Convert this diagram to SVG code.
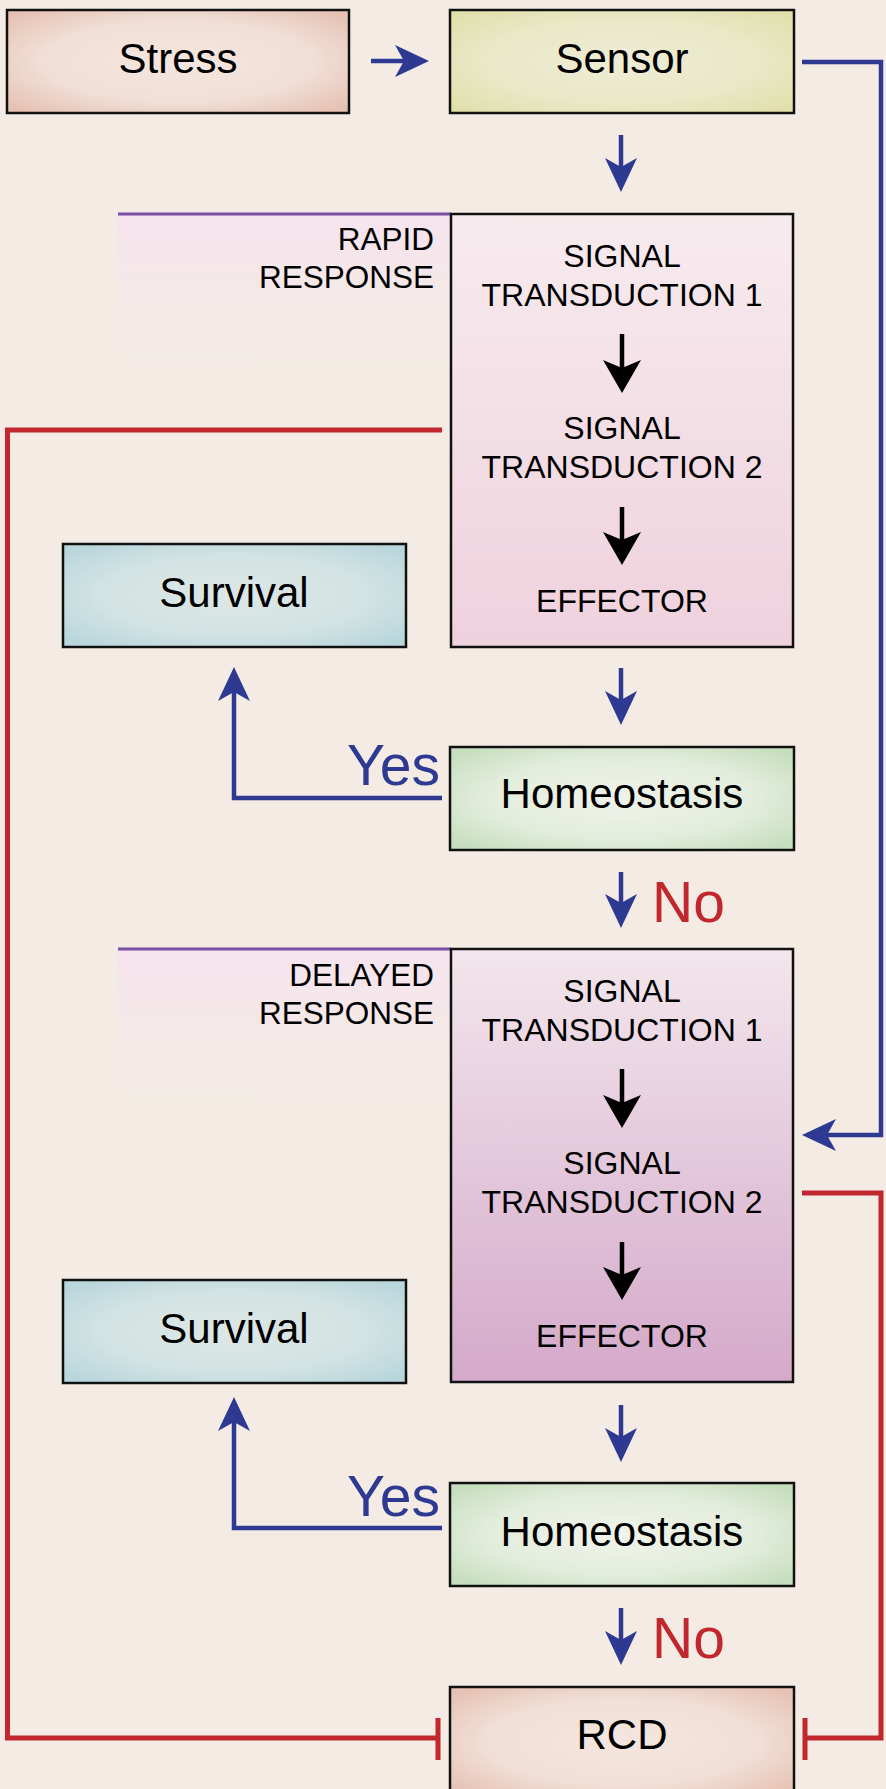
<svg xmlns="http://www.w3.org/2000/svg" width="886" height="1789" viewBox="0 0 886 1789">
<style>
.box{stroke:#111;stroke-width:2.5}
.lbl{font-family:"Liberation Sans",Arial,sans-serif;font-size:42px;fill:#000;text-anchor:middle}
.sig{font-family:"Liberation Sans",Arial,sans-serif;font-size:32px;fill:#000;text-anchor:middle}
.side{font-family:"Liberation Sans",Arial,sans-serif;font-size:31.5px;fill:#000;text-anchor:end}
.yes{font-family:"Liberation Sans",Arial,sans-serif;font-size:57px;fill:#2E3A92;text-anchor:end}
.no{font-family:"Liberation Sans",Arial,sans-serif;font-size:57px;fill:#C1272D}
.blue{fill:none;stroke:#2E3A92;stroke-width:4.5;marker-end:url(#ab)}
.blk{fill:none;stroke:#000;stroke-width:4.5;marker-end:url(#ak)}
.red{fill:none;stroke:#C1272D;stroke-width:5}
.purple{stroke:#7B4FA3;stroke-width:3}
</style>
<defs>
<marker id="ab" markerUnits="userSpaceOnUse" markerWidth="40" markerHeight="40" refX="9" refY="16" orient="auto" overflow="visible">
<path d="M34,16 L0,0 L9,16 L0,32 Z" fill="#2E3A92"/>
</marker>
<marker id="ak" markerUnits="userSpaceOnUse" markerWidth="40" markerHeight="40" refX="8" refY="19" orient="auto" overflow="visible">
<path d="M33,19 L0,0 L8,19 L0,38 Z" fill="#000"/>
</marker>
<radialGradient id="gStress" cx="0.5" cy="0.5" r="0.65">
<stop offset="0" stop-color="#F4E6DF"/><stop offset="0.6" stop-color="#F1DFD6"/><stop offset="1" stop-color="#E6C2B4"/>
</radialGradient>
<radialGradient id="gSensor" cx="0.5" cy="0.5" r="0.65">
<stop offset="0" stop-color="#EEECD4"/><stop offset="0.6" stop-color="#EAE8C8"/><stop offset="1" stop-color="#E1E0AC"/>
</radialGradient>
<radialGradient id="gSurv" cx="0.5" cy="0.5" r="0.65">
<stop offset="0" stop-color="#DCE7E5"/><stop offset="0.6" stop-color="#D2E3E3"/><stop offset="1" stop-color="#B8D6DB"/>
</radialGradient>
<radialGradient id="gHomeo" cx="0.5" cy="0.5" r="0.65">
<stop offset="0" stop-color="#F0F3EB"/><stop offset="0.6" stop-color="#E3EDDC"/><stop offset="1" stop-color="#C6DEBD"/>
</radialGradient>
<linearGradient id="gRapid" x1="0" y1="0" x2="0" y2="1">
<stop offset="0" stop-color="#F7EBEE"/><stop offset="1" stop-color="#EFD1DD"/>
</linearGradient>
<linearGradient id="gDelayed" x1="0" y1="0" x2="0" y2="1">
<stop offset="0" stop-color="#F3E6EC"/><stop offset="1" stop-color="#D4A9CA"/>
</linearGradient>
<linearGradient id="gPanel" x1="0" y1="0" x2="0" y2="1">
<stop offset="0" stop-color="#F6E3EF" stop-opacity="1"/><stop offset="1" stop-color="#F3EBE4" stop-opacity="0"/>
</linearGradient>
</defs>
<rect x="0" y="0" width="886" height="1789" fill="#F3EBE4"/>

<g id="rapid-label">
<rect x="118" y="214" width="333" height="190" fill="url(#gPanel)"/>
<line class="purple" x1="118" y1="214" x2="451" y2="214"/>
<text class="side" x="434" y="250">RAPID</text>
<text class="side" x="434" y="288">RESPONSE</text>
</g>
<g id="delayed-label">
<rect x="118" y="949" width="333" height="190" fill="url(#gPanel)"/>
<line class="purple" x1="118" y1="949" x2="451" y2="949"/>
<text class="side" x="434" y="986">DELAYED</text>
<text class="side" x="434" y="1024">RESPONSE</text>
</g>

<g id="stress">
<rect class="box" x="7" y="10" width="342" height="103" fill="url(#gStress)"/>
<text class="lbl" x="178" y="73">Stress</text>
</g>
<g id="sensor">
<rect class="box" x="450" y="10" width="344" height="103" fill="url(#gSensor)"/>
<text class="lbl" x="622" y="73">Sensor</text>
</g>

<g id="rapid-response">
<rect class="box" x="451" y="214" width="342" height="433" fill="url(#gRapid)"/>
<text class="sig" x="622" y="267">SIGNAL</text>
<text class="sig" x="622" y="306">TRANSDUCTION 1</text>
<path class="blk" d="M622,334 V368"/>
<text class="sig" x="622" y="439">SIGNAL</text>
<text class="sig" x="622" y="478">TRANSDUCTION 2</text>
<path class="blk" d="M622,507 V540"/>
<text class="sig" x="622" y="612">EFFECTOR</text>
</g>

<g id="survival-1">
<rect class="box" x="63" y="544" width="343" height="103" fill="url(#gSurv)"/>
<text class="lbl" x="234" y="607">Survival</text>
</g>
<g id="homeostasis-1">
<rect class="box" x="450" y="747" width="344" height="103" fill="url(#gHomeo)"/>
<text class="lbl" x="622" y="808">Homeostasis</text>
</g>

<g id="delayed-response">
<rect class="box" x="451" y="949" width="342" height="433" fill="url(#gDelayed)"/>
<text class="sig" x="622" y="1002">SIGNAL</text>
<text class="sig" x="622" y="1041">TRANSDUCTION 1</text>
<path class="blk" d="M622,1069 V1103"/>
<text class="sig" x="622" y="1174">SIGNAL</text>
<text class="sig" x="622" y="1213">TRANSDUCTION 2</text>
<path class="blk" d="M622,1242 V1275"/>
<text class="sig" x="622" y="1347">EFFECTOR</text>
</g>

<g id="survival-2">
<rect class="box" x="63" y="1280" width="343" height="103" fill="url(#gSurv)"/>
<text class="lbl" x="234" y="1343">Survival</text>
</g>
<g id="homeostasis-2">
<rect class="box" x="450" y="1483" width="344" height="103" fill="url(#gHomeo)"/>
<text class="lbl" x="622" y="1546">Homeostasis</text>
</g>

<g id="rcd">
<rect class="box" x="450" y="1687" width="344" height="110" fill="url(#gStress)"/>
<text class="lbl" x="622" y="1749">RCD</text>
</g>

<g id="connectors">
<path class="blue" d="M371,61 H404"/>
<path class="blue" d="M621,135 V167"/>
<path class="blue" d="M802,62 H881 V1135 H827"/>
<path class="blue" d="M621,668 V700"/>
<path class="blue" d="M442,798 H234 V692"/>
<text class="yes" x="440" y="785">Yes</text>
<path class="blue" d="M621,872 V903"/>
<text class="no" x="652" y="922">No</text>
<path class="blue" d="M621,1405 V1437"/>
<path class="blue" d="M442,1528 H234 V1422"/>
<text class="yes" x="440" y="1516">Yes</text>
<path class="blue" d="M621,1608 V1640"/>
<text class="no" x="652" y="1658">No</text>
<path class="red" d="M442,430 H7.5 V1738 H438"/>
<line class="red" x1="438" y1="1718" x2="438" y2="1760"/>
<path class="red" d="M802,1193 H881 V1738 H805"/>
<line class="red" x1="805" y1="1718" x2="805" y2="1760"/>
</g>
</svg>
